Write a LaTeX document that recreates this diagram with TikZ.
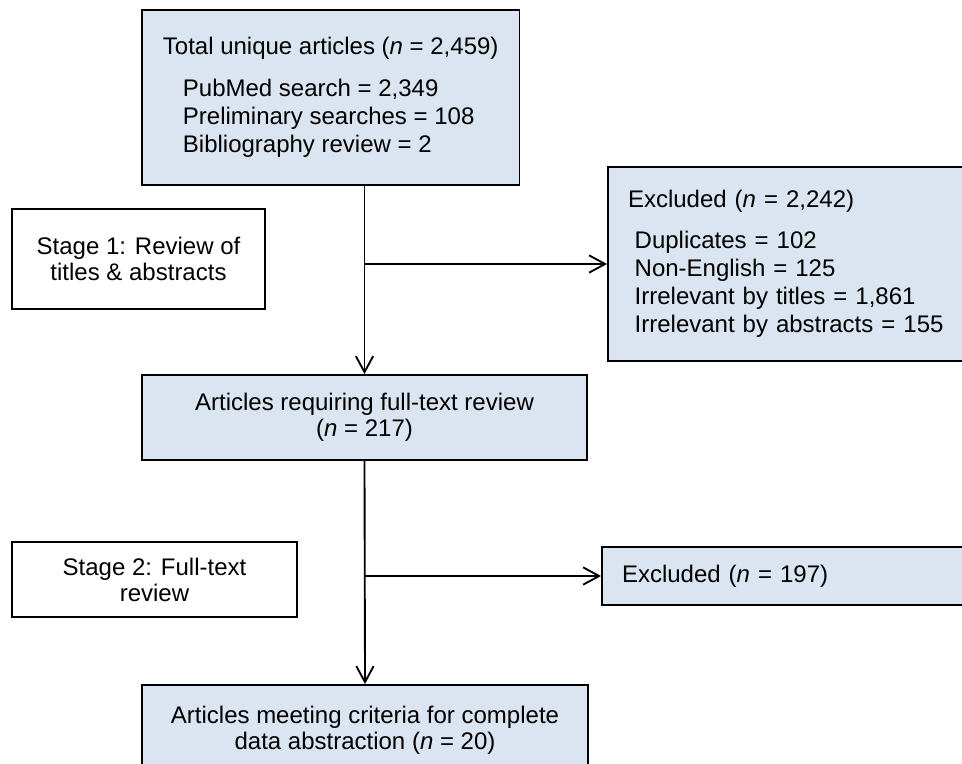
\documentclass[tikz,border=0pt]{standalone}
\usepackage{fontspec}
\setmainfont{Liberation Sans}
\usepackage{tikz}
\usetikzlibrary{positioning, arrows.meta}
\definecolor{boxblue}{RGB}{219,229,241}

\begin{document}
\begin{tikzpicture}[
  x=0.75pt, y=-0.75pt,
  font=\fontsize{18}{19.5}\selectfont,
  box/.style={draw, line width=1.4pt, fill=boxblue, align=center, inner sep=0pt},
  stagebox/.style={box, fill=white},
  listbox/.style={box, align=left, inner xsep=15pt, font=\fontsize{18}{21}\selectfont},
  arrow/.style={-{Straight Barb[length=12pt, width=13pt]}, line width=1.4pt},
]
  \useasboundingbox (0,0) rectangle (962,763);
  \clip (0,0) rectangle (962,763);

  \node[listbox, inner xsep=15.75pt, minimum height=131.25pt, anchor=north west] (total) at (141,9)
    {Total unique articles (\textit{n} = 2,459)\\[11pt]
     \hspace*{15pt}PubMed search = 2,349\\
     \hspace*{15pt}Preliminary searches = 108\\
     \hspace*{15pt}Bibliography review = 2};

  \node[stagebox, minimum width=189.75pt, minimum height=75pt] (stage1) at (138.5,259)
    {Stage 1: Review of\\titles \& abstracts};

  \node[listbox, minimum width=275.25pt, minimum height=145.5pt, text width=245.25pt] (excl1) at (791.5,264)
    {Excluded (\textit{n} = 2,242)\\[10pt]
     \hspace*{5pt}Duplicates = 102\\
     \hspace*{5pt}Non-English = 125\\
     \hspace*{5pt}Irrelevant by titles = 1,861\\
     \hspace*{5pt}Irrelevant by abstracts = 155};

  \node[box, minimum width=333.75pt, minimum height=63.75pt] (mid) at (364.5,417.5)
    {Articles requiring full-text review\\(\textit{n} = 217)};

  \node[stagebox, minimum width=213.75pt, minimum height=56.25pt] (stage2) at (154.5,579.5)
    {Stage 2: Full-text\\review};

  \node[listbox, minimum width=279.75pt, minimum height=43.5pt, text width=249.75pt] (excl2) at (788.5,576)
    {Excluded (\textit{n} = 197)};

  \node[box, minimum width=334.5pt, minimum height=67.5pt] (final) at (365,730)
    {Articles meeting criteria for complete\\data abstraction (\textit{n} = 20)};

  % main flow
  \draw[arrow] (total.south -| mid.north) -- (mid.north);
  \draw[arrow] (mid.north |- excl1.west) -- (excl1.west);
  \draw[arrow] (mid.south) -- (final.north);
  \draw[arrow] (mid.south |- excl2.west) -- (excl2.west);
\end{tikzpicture}
\end{document}
